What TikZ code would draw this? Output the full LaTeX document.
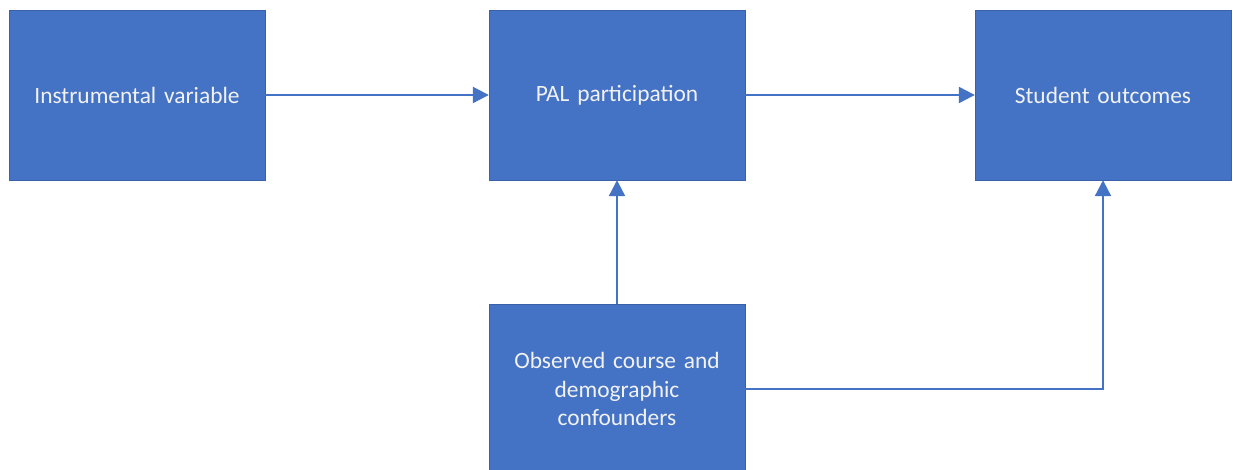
\documentclass[tikz,border=0pt]{standalone}
\usepackage{fontspec}
\setmainfont{Carlito}
\usetikzlibrary{arrows.meta}
\definecolor{boxblue}{HTML}{4472C4}
\definecolor{txtcol}{HTML}{F2F2F2}
\tikzset{
  box/.style={fill=boxblue, draw=boxblue!85!black, line width=0.4pt, minimum width=256pt, minimum height=170pt, inner sep=0pt, text=txtcol, font=\fontsize{23.4}{28.5}\selectfont, align=center, text width=250pt},
  conn/.style={draw=boxblue, line width=2.2pt, -{Triangle[width=16pt,length=16pt]}}
}
\begin{document}
\begin{tikzpicture}[x=1pt,y=-1pt]
\useasboundingbox[fill=white] (0,0) rectangle (1233,470);
\node[box] (iv) at (137,95) {Instrumental variable};
\node[box] (pal) at (617,95) {PAL participation};
\node[box] (so) at (1103,95) {Student outcomes};
\node[box] (oc) at (617,389) {Observed course and\\demographic\\confounders};
\draw[conn] (iv) -- (pal);
\draw[conn] (pal) -- (so);
\draw[conn] (oc) -- (pal);
\draw[conn] (oc.east) -| (so.south);
\end{tikzpicture}
\end{document}
